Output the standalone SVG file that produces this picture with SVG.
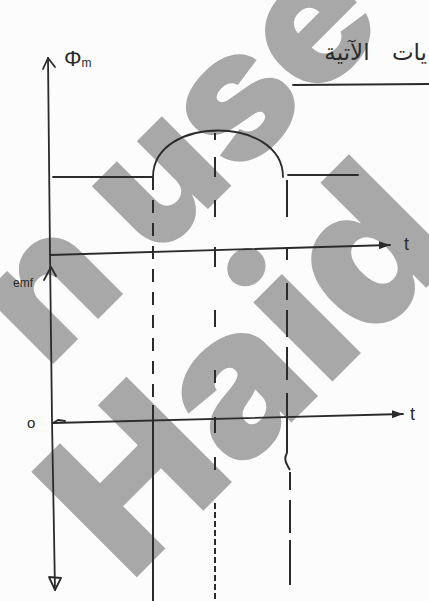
<svg xmlns="http://www.w3.org/2000/svg" width="429" height="601" viewBox="0 0 429 601">
<defs>
<style>
.wm{fill:#a8a8a8;font-family:Inter,Lato,"Liberation Sans",sans-serif;font-weight:900;}
.ln{stroke:#2b2b2b;stroke-width:1.8;fill:none;stroke-linecap:round;stroke-linejoin:round;}
.dsh{stroke:#2b2b2b;stroke-width:2;fill:none;}
.lbl{fill:#2b2b2b;font-family:"Liberation Sans","DejaVu Sans",sans-serif;}
</style>
<marker id="ah" markerWidth="12" markerHeight="10" refX="11" refY="5" orient="auto" markerUnits="userSpaceOnUse">
<path d="M0,1 L11,5 L0,9 Z" fill="#2b2b2b"/>
</marker>
</defs>
<rect width="429" height="601" fill="#fcfcfc"/>
<g id="watermark">
<text class="wm" font-size="180" transform="translate(160,257) rotate(-45)" x="-160" y="0">n use</text>
<text class="wm" font-size="205" transform="translate(130,584) rotate(-45)" x="0" y="0">Haid</text>
</g>
<g id="connectors">
<path class="ln" d="M48,58 L50,255 L52,420 L55,590"/>
<path class="ln" d="M43,69 L48,58 L55,67"/>
<path class="ln" d="M55,590 L49,577 L61,578 Z"/>
<path class="ln" d="M44,280 L51,267 L56,276"/>
<path class="ln" d="M50,255 L390,245" marker-end="url(#ah)"/>
<path class="ln" d="M53,423 L403,414" marker-end="url(#ah)"/>
<path class="ln" d="M53,423 L58,420 L65,421"/>
<path class="ln" d="M293,85 L429,84"/>
</g>
<g id="phi-curve">
<path class="ln" d="M53,177 L153,177 C153,115 283,115 283,177"/>
<path class="ln" d="M288,175 L358,175"/>
</g>
<g id="dashes">
<path class="dsh" d="M153,177 V405" stroke-dasharray="13 10"/>
<path class="dsh" d="M153,405 V601"/>
<path class="dsh" d="M215,133V140 M215,157V177 M215,200V217 M215,247V267 M215,310V327 M215,370V383 M215,417V433 M215,457V470"/>
<path class="dsh" d="M215,503 V601" stroke-dasharray="6 3"/>
<path class="dsh" d="M287,180V217 M287,247V260 M287,283V300 M287,310V337 M287,347V380 M287,393V453 M287,453 C284,458 285,462 290,470 M290,472V490 M290,500V533 M290,540V585"/>
</g>
<g id="labels">
<text class="lbl" x="64" y="66" font-size="22" font-family="'Liberation Serif',serif">Φ<tspan font-size="12" dy="1">m</tspan></text>
<text class="lbl" x="13" y="287" font-size="12">emf</text>
<text class="lbl" x="27" y="428" font-size="15">o</text>
<text class="lbl" x="404" y="250" font-size="18">t</text>
<text class="lbl" x="410" y="420" font-size="18">t</text>
<text class="lbl" x="427" y="60" font-size="23" word-spacing="16" text-anchor="end" font-family="'DejaVu Sans',sans-serif">يات الآتية</text>
</g>
</svg>
